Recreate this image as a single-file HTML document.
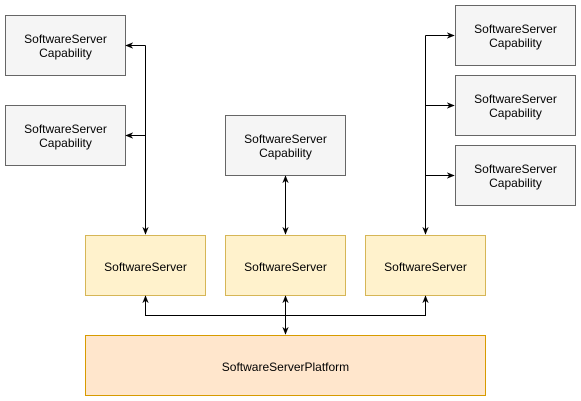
<!DOCTYPE html>
<html><head><style>body{margin:0;background:#fff}svg{display:block}</style></head><body>
<svg width="581" height="401" viewBox="0 0 581 401" xmlns="http://www.w3.org/2000/svg" font-family="Liberation Sans, Arial, sans-serif" font-size="12">
<defs><marker id="a" viewBox="0 0 10 10" refX="9" refY="5" markerWidth="8" markerHeight="8" orient="auto-start-reverse"><path d="M0,1 L10,5 L0,9 L3,5 z" fill="#000"/></marker></defs>
<g fill="#f5f5f5" stroke="#666">
<rect x="5.5" y="15.5" width="120" height="60"/>
<rect x="5.5" y="105.5" width="120" height="60"/>
<rect x="225.5" y="115.5" width="120" height="60"/>
<rect x="455.5" y="5.5" width="120" height="60"/>
<rect x="455.5" y="75.5" width="120" height="60"/>
<rect x="455.5" y="145.5" width="120" height="60"/>
</g>
<g fill="#fff2cc" stroke="#d6b656">
<rect x="85.5" y="235.5" width="120" height="60"/>
<rect x="225.5" y="235.5" width="120" height="60"/>
<rect x="365.5" y="235.5" width="120" height="60"/>
</g>
<rect x="85.5" y="335.5" width="400" height="60" fill="#ffe6cc" stroke="#d79b00"/>
<g stroke="#000" fill="none" stroke-width="1">
<path d="M145.5 45.5 V234" marker-end="url(#a)"/>
<path d="M145.5 45.5 H126" marker-end="url(#a)"/>
<path d="M145.5 135.5 H126" marker-end="url(#a)"/>
<path d="M285.5 176 V234" marker-start="url(#a)" marker-end="url(#a)"/>
<path d="M425.5 35.5 V234" marker-end="url(#a)"/>
<path d="M425.5 35.5 H454" marker-end="url(#a)"/>
<path d="M425.5 105.5 H454" marker-end="url(#a)"/>
<path d="M425.5 175.5 H454" marker-end="url(#a)"/>
<path d="M145.5 296 V315.5 H425.5 V296" marker-start="url(#a)" marker-end="url(#a)"/>
<path d="M285.5 296 V334" marker-start="url(#a)" marker-end="url(#a)"/>
</g>
<g text-anchor="middle" fill="#000">
<text x="65.5" y="43">SoftwareServer</text><text x="65.5" y="57">Capability</text>
<text x="65.5" y="133">SoftwareServer</text><text x="65.5" y="147">Capability</text>
<text x="285.5" y="143">SoftwareServer</text><text x="285.5" y="157">Capability</text>
<text x="515.5" y="33">SoftwareServer</text><text x="515.5" y="47">Capability</text>
<text x="515.5" y="103">SoftwareServer</text><text x="515.5" y="117">Capability</text>
<text x="515.5" y="173">SoftwareServer</text><text x="515.5" y="187">Capability</text>
<text x="145.5" y="271">SoftwareServer</text>
<text x="285.5" y="271">SoftwareServer</text>
<text x="425.5" y="271">SoftwareServer</text>
<text x="285.5" y="371">SoftwareServerPlatform</text>
</g>
</svg>
</body></html>
